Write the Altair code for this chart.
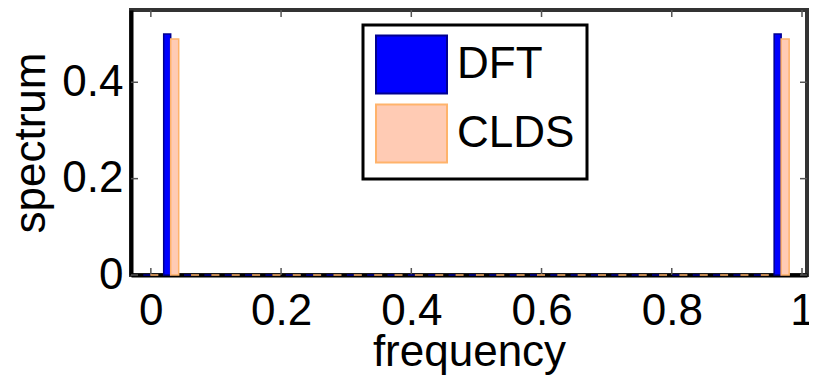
import altair as alt
import pandas as pd

# ---- data ----
frequencies = [0.0, 0.03125, 0.0625, 0.09375, 0.125, 0.15625, 0.1875, 0.21875,
               0.25, 0.28125, 0.3125, 0.34375, 0.375, 0.40625, 0.4375, 0.46875,
               0.5, 0.53125, 0.5625, 0.59375, 0.625, 0.65625, 0.6875, 0.71875,
               0.75, 0.78125, 0.8125, 0.84375, 0.875, 0.90625, 0.9375, 0.96875]
dft_values = [0, 0.5, 0, 0, 0, 0, 0, 0, 0, 0, 0, 0, 0, 0, 0, 0,
              0, 0, 0, 0, 0, 0, 0, 0, 0, 0, 0, 0, 0, 0, 0, 0.5]
clds_values = [0, 0.49, 0, 0, 0, 0, 0, 0, 0, 0, 0, 0, 0, 0, 0, 0,
               0, 0, 0, 0, 0, 0, 0, 0, 0, 0, 0, 0, 0, 0, 0, 0.49]
series_names = ["DFT", "CLDS"]
x_ticks = [0, 0.2, 0.4, 0.6, 0.8, 1]
y_ticks = [0, 0.2, 0.4]

FONT = "Liberation Sans"
W, H = 676, 265

rows = []
for f, d, c in zip(frequencies, dft_values, clds_values):
    rows.append({"f": f, "s": d, "series": "DFT"})
    rows.append({"f": f, "s": c, "series": "CLDS"})
df = pd.DataFrame(rows)

x_scale = alt.Scale(domain=[-0.0228, 1], nice=False, zero=False)
y_scale = alt.Scale(domain=[0, 0.55], nice=False)

x_axis = alt.Axis(values=x_ticks, format="~g", title="frequency", ticks=False,
                  grid=False, domainColor="black", domainWidth=4,
                  labelFont=FONT, labelFontSize=44, labelColor="black",
                  labelPadding=14, labelFlush=False, labelOverlap=False,
                  titleFont=FONT, titleFontSize=44, titleFontWeight="normal",
                  titleColor="black", titlePadding=-3)
y_axis = alt.Axis(values=y_ticks, format="~g", title="spectrum", ticks=False,
                  grid=False, domainColor="black", domainWidth=4,
                  labelFont=FONT, labelFontSize=44, labelColor="black",
                  labelPadding=8, labelFlush=False, labelOverlap=False,
                  titleFont=FONT, titleFontSize=44, titleFontWeight="normal",
                  titleColor="black", titlePadding=8)

x_enc = alt.X("f:Q", scale=x_scale, axis=x_axis)
y_enc = alt.Y("s:Q", scale=y_scale, axis=y_axis)

legend = alt.Legend(orient="none", legendX=232, legendY=15, title=None,
                    symbolType="M-1,-1.094H1.679V1.094H-1Z", symbolSize=2809,
                    symbolStrokeWidth=2, labelFont=FONT, labelFontSize=44,
                    labelColor="black", labelOffset=27, padding=12,
                    rowPadding=2, strokeColor="black", fillColor="white")

fill_enc = alt.Fill("series:N", scale=alt.Scale(domain=series_names,
                    range=["#0000FF", "#FFCBB4"]), legend=legend)
stroke_enc = alt.Stroke("series:N", scale=alt.Scale(domain=series_names,
                        range=["#000090", "#FFB36B"]), legend=legend)

base = alt.Chart(df)
dft_bars = base.transform_filter(alt.datum.series == "DFT").mark_bar(
    width=7, xOffset=-4, strokeWidth=1.5).encode(
    x=x_enc, y=y_enc, fill=fill_enc, stroke=stroke_enc)
clds_bars = base.transform_filter(alt.datum.series == "CLDS").mark_bar(
    width=8, xOffset=3.5, strokeWidth=1.5).encode(
    x=x_enc, y=y_enc, fill=fill_enc, stroke=stroke_enc)

xt = pd.DataFrame({"f": x_ticks})
yt = pd.DataFrame({"s": y_ticks})
tick_color = "#555555"
x_ticks_bottom = alt.Chart(xt).mark_rule(color=tick_color, strokeWidth=1.5).encode(
    x=x_enc, y=alt.value(H), y2=alt.value(H - 7))
x_ticks_top = alt.Chart(xt).mark_rule(color=tick_color, strokeWidth=1.5).encode(
    x=x_enc, y=alt.value(0), y2=alt.value(7))
y_ticks_left = alt.Chart(yt).mark_rule(color=tick_color, strokeWidth=1.5).encode(
    y=y_enc, x=alt.value(0), x2=alt.value(7))
y_ticks_right = alt.Chart(yt).mark_rule(color=tick_color, strokeWidth=1.5).encode(
    y=y_enc, x=alt.value(W), x2=alt.value(W - 7))

chart = alt.layer(
    x_ticks_bottom, x_ticks_top, y_ticks_left, y_ticks_right, dft_bars, clds_bars
).properties(
    width=W, height=H, autosize="none",
    padding={"left": 123, "top": 2, "right": 2, "bottom": 100},
).configure_view(stroke="#333333", strokeWidth=4
).configure_legend(strokeWidth=3)

chart.save("out.html", embed_options={"renderer": "svg", "actions": False})
